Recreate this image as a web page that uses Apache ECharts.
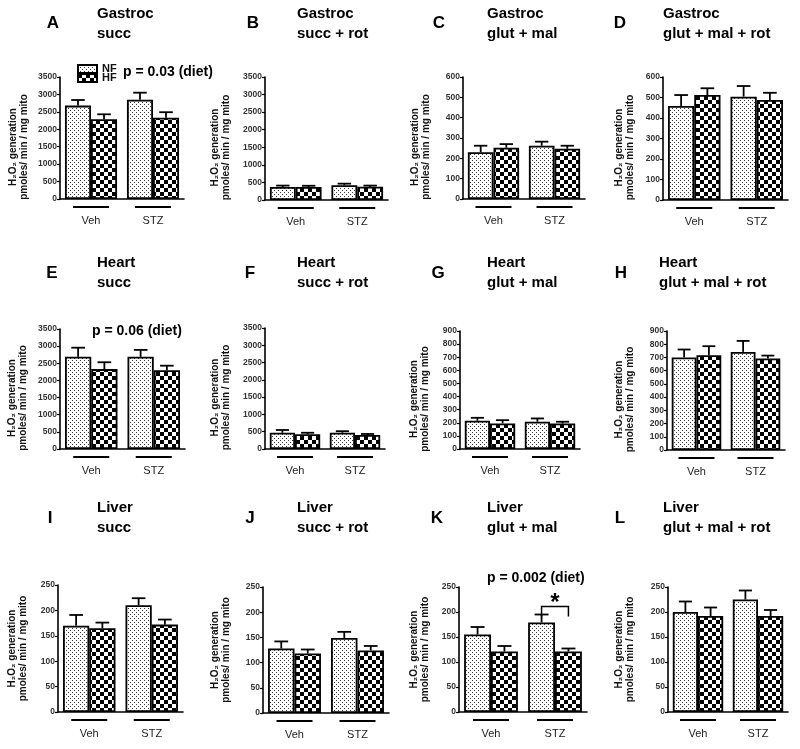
<!DOCTYPE html>
<html><head><meta charset="utf-8">
<script src="https://cdn.jsdelivr.net/npm/echarts@6/dist/echarts.min.js"></script>
<style>html,body{margin:0;padding:0;background:#fff}#c{width:800px;height:749px}</style>
</head><body><div id="c"></div>
<script>
// ---------------- DATA ----------------
const categories = ['Veh', 'STZ'];
const groupNames = ['NF', 'HF'];
const panelLetters = ['A','B','C','D','E','F','G','H','I','J','K','L'];
const panelTitles = [
  'Gastroc\nsucc', 'Gastroc\nsucc + rot', 'Gastroc\nglut + mal', 'Gastroc\nglut + mal + rot',
  'Heart\nsucc', 'Heart\nsucc + rot', 'Heart\nglut + mal', 'Heart\nglut + mal + rot',
  'Liver\nsucc', 'Liver\nsucc + rot', 'Liver\nglut + mal', 'Liver\nglut + mal + rot'
];
const yMax  = [3500, 3500, 600, 600, 3500, 3500, 900, 900, 250, 250, 250, 250];
const yStep = [500, 500, 100, 100, 500, 500, 100, 100, 50, 50, 50, 50];
// NF (normal fat) means and SEM, [Veh, STZ]
const nfMean = [[2680,2850],[370,420],[230,262],[459,504],[2690,2690],[470,470],[215,208],[700,742],[170,210],[128,149],[155,179],[200,225]];
const nfSem  = [[160,200],[40,45],[32,20],[53,52],[265,200],[80,45],[23,25],[60,83],[21,14],[14,12],[15,16],[21,18]];
// HF (high fat) means and SEM, [Veh, STZ]
const hfMean = [[2290,2330],[370,375],[252,247],[512,488],[2330,2300],[430,405],[195,195],[717,692],[165,172],[118,124],[121,121],[192,192]];
const hfSem  = [[140,160],[35,35],[18,15],[33,35],[200,130],[40,30],[25,13],[68,22],[11,10],[8,9],[11,6],[17,12]];
// p-value annotations: [panelIndex, text]
const pNotes = [[0, 'p = 0.03 (diet)'], [4, 'p = 0.06 (diet)'], [10, 'p = 0.002 (diet)']];
// significance bracket in panel K (STZ): [category index, bracket top, bracket foot]
const sigBracket = [[1, 211, 191]];
const sigPanel = 10;

// ---------------- LAYOUT ----------------
const FONT = '"Liberation Sans", Arial, Helvetica, sans-serif';
// grid: [left, top, width, height]
const grids = [
  [60,77,124,122],[265,77,123,123],[463,77,122,122],[663,77,125,123],
  [60,329,125,120],[265,328,120,121],[460,331,120,118],[667,331,118,119],
  [58,585,125,127],[263,587,126,126],[459,587,128,125],[668,587,120,125]
];
const nameGaps = [30,33,31,27,31,33,29,31,29,31,28,32];
const letterX = [53,253,439,620,52,250,438,621,50,250,437,620];
const titleX  = [97,297,487,663,97,297,487,659,97,297,487,663];
const rowLetterY = [23, 273, 518];
const rowTitleY  = [14, 263, 508];
const pPos = {0:[123,72], 4:[92,331], 10:[487,578]};
const BAR_RATIO = 0.42;

// ---------------- PATTERNS ----------------
function makeDots(){
  const c = document.createElement('canvas'); c.width = 4; c.height = 4;
  const x = c.getContext('2d');
  x.fillStyle = '#fff'; x.fillRect(0,0,4,4);
  x.fillStyle = '#3a3a3a'; x.fillRect(0,0,1,1); x.fillRect(2,2,1,1);
  return c;
}
function makeChecks(){
  const c = document.createElement('canvas'); c.width = 8; c.height = 8;
  const x = c.getContext('2d');
  x.fillStyle = '#fff'; x.fillRect(0,0,8,8);
  x.fillStyle = '#000'; x.fillRect(0,0,4,4); x.fillRect(4,4,4,4);
  return c;
}
const nfFill = {image: makeDots(), repeat: 'repeat'};
const hfFill = {image: makeChecks(), repeat: 'repeat'};

// ---------------- RENDERERS ----------------
function renderErr(params, api){
  const c = api.value(0), m = api.value(1), s = api.value(2), g = api.value(3);
  const band = api.size([1, 0])[0];
  const bw = band * BAR_RATIO;
  const base = api.coord([c, m]);
  const top = api.coord([c, m + s]);
  const x = base[0] + (g === 0 ? -bw / 2 : bw / 2);
  const cap = bw * 0.26;
  const st = {stroke: '#000', lineWidth: 1.8};
  return {type: 'group', children: [
    {type: 'line', shape: {x1: x, y1: base[1], x2: x, y2: top[1]}, style: st},
    {type: 'line', shape: {x1: x - cap, y1: top[1], x2: x + cap, y2: top[1]}, style: st}
  ]};
}
function renderBracket(params, api){
  const c = api.value(0), t = api.value(1), f = api.value(2);
  const band = api.size([1, 0])[0];
  const bw = band * BAR_RATIO;
  const pt = api.coord([c, t]);
  const pf = api.coord([c, f]);
  const x1 = pt[0] - bw / 2, x2 = pt[0] + bw / 2;
  return {type: 'group', children: [
    {type: 'polyline', shape: {points: [[x1, pf[1]], [x1, pt[1]], [x2, pt[1]], [x2, pf[1]]]},
     style: {stroke: '#000', lineWidth: 1.5, fill: null}},
    {type: 'text', style: {text: '*', x: pt[0], y: pt[1] + 9, align: 'center', verticalAlign: 'bottom',
      fontSize: 24, fontWeight: 'bold', fontFamily: FONT, fill: '#000'}}
  ]};
}

// ---------------- OPTION ----------------
const option = {
  animation: false,
  backgroundColor: '#fff',
  textStyle: {fontFamily: FONT},
  grid: [], xAxis: [], yAxis: [], series: [], graphic: [],
  legend: [
    {data: ['NF'], left: 77, top: 63.5, padding: 0, icon: 'rect', itemWidth: 19, itemHeight: 8,
     selectedMode: false, textStyle: {fontSize: 11, fontWeight: 'bold', color: '#111', fontFamily: FONT}},
    {data: ['HF'], left: 77, top: 72.5, padding: 0, icon: 'rect', itemWidth: 19, itemHeight: 8,
     selectedMode: false, textStyle: {fontSize: 11, fontWeight: 'bold', color: '#111', fontFamily: FONT}}
  ]
};

for (let i = 0; i < 12; i++) {
  const [l, t, w, h] = grids[i];
  const row = Math.floor(i / 4);
  option.grid.push({left: l, top: t, width: w, height: h, containLabel: false});
  option.xAxis.push({
    type: 'category', gridIndex: i, data: categories,
    axisLine: {lineStyle: {color: '#000', width: 1.6}},
    axisTick: {show: false},
    axisLabel: {
      margin: 7, interval: 0,
      formatter: v => '{ln| }\n{t|' + v + '}',
      rich: {
        ln: {width: 36, height: 2, lineHeight: 2, fontSize: 2, backgroundColor: '#000'},
        t: {fontSize: 11, lineHeight: 25, color: '#222', fontFamily: FONT}
      }
    }
  });
  option.yAxis.push({
    type: 'value', gridIndex: i, min: 0, max: yMax[i], interval: yStep[i],
    splitLine: {show: false},
    axisLine: {show: true, lineStyle: {color: '#000', width: 1.6}},
    axisTick: {show: true, length: 3, lineStyle: {color: '#000', width: 1.2}},
    axisLabel: {fontSize: 8.5, fontWeight: 'bold', color: '#333', margin: 3, fontFamily: FONT,
      formatter: v => String(v)},
    name: 'H\u2082O\u2082 generation\npmoles/ min / mg mito',
    nameLocation: 'middle', nameRotate: 90, nameGap: nameGaps[i],
    nameTextStyle: {fontSize: 10, fontWeight: 'bold', color: '#111', lineHeight: 11,
      fontFamily: FONT, padding: row < 2 ? [0, 18, 0, 0] : 0}
  });
  option.series.push({
    type: 'bar', name: groupNames[0], xAxisIndex: i, yAxisIndex: i, data: nfMean[i],
    barWidth: (BAR_RATIO * 100) + '%', barGap: '0%',
    itemStyle: {color: nfFill, borderColor: '#000', borderWidth: 1.8}, silent: true
  });
  option.series.push({
    type: 'bar', name: groupNames[1], xAxisIndex: i, yAxisIndex: i, data: hfMean[i],
    barWidth: (BAR_RATIO * 100) + '%', barGap: '0%',
    itemStyle: {color: hfFill, borderColor: '#000', borderWidth: 1.8}, silent: true
  });
  const errData = [];
  for (let c = 0; c < 2; c++) errData.push([c, nfMean[i][c], nfSem[i][c], 0]);
  for (let c = 0; c < 2; c++) errData.push([c, hfMean[i][c], hfSem[i][c], 1]);
  option.series.push({
    type: 'custom', name: 'err' + i, xAxisIndex: i, yAxisIndex: i, data: errData,
    encode: {x: 0, y: 1}, renderItem: renderErr, z: 5, silent: true
  });
  option.graphic.push({type: 'text', x: letterX[i], y: rowLetterY[row], silent: true,
    style: {text: panelLetters[i], align: 'center', verticalAlign: 'middle',
      fontSize: 17, fontWeight: 'bold', fontFamily: FONT, fill: '#000'}});
  option.graphic.push({type: 'text', x: titleX[i], y: rowTitleY[row] - 10, silent: true,
    style: {text: panelTitles[i], align: 'left', verticalAlign: 'top', lineHeight: 20,
      fontSize: 15, fontWeight: 'bold', fontFamily: FONT, fill: '#000'}});
}
option.series.push({
  type: 'custom', name: 'sig', xAxisIndex: sigPanel, yAxisIndex: sigPanel, data: sigBracket,
  encode: {x: 0, y: 1}, renderItem: renderBracket, z: 6, silent: true
});
pNotes.forEach(([pi, txt]) => {
  const p = pPos[pi];
  option.graphic.push({type: 'text', x: p[0], y: p[1], silent: true,
    style: {text: txt, align: 'left', verticalAlign: 'middle',
      fontSize: 14, fontWeight: 'bold', fontFamily: FONT, fill: '#000'}});
});

const chart = echarts.init(document.getElementById('c'), null, {renderer: 'canvas'});
chart.setOption(option);
</script></body></html>
